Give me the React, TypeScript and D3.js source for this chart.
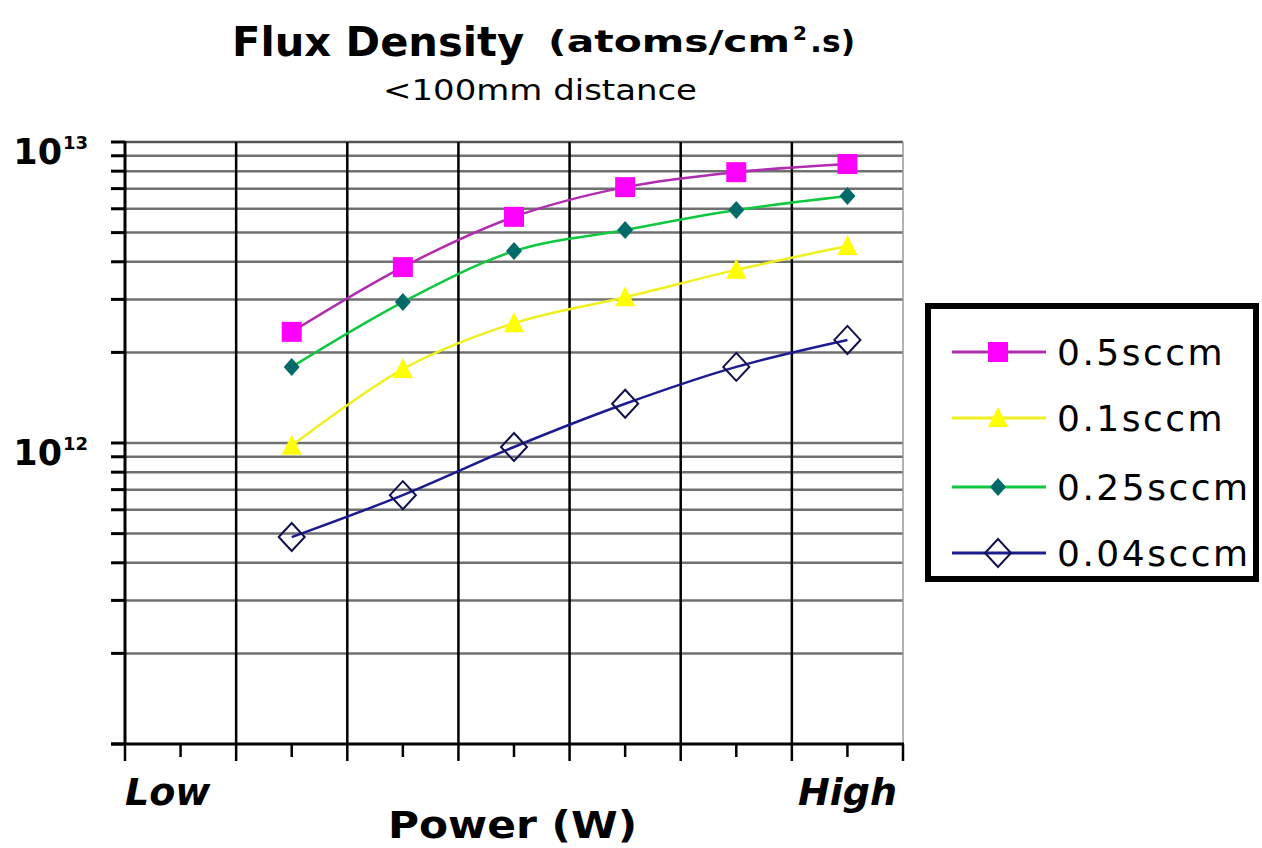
import React from "react";
import * as d3 from "d3";

// power categories on the x axis (only the ends are labelled)
const powerLevels = ["P1", "P2", "P3", "P4", "P5", "P6", "P7"];
const powerTickLabels = ["Low", "", "", "", "", "", "High"];
const measuredLevels = ["P2", "P3", "P4", "P5", "P6", "P7"];

// flux density, atoms/cm2.s
const flux05 = [2.34e12, 3.84e12, 5.64e12, 7.08e12, 7.94e12, 8.45e12];
const flux01 = [0.98e12, 1.76e12, 2.5e12, 3.05e12, 3.76e12, 4.51e12];
const flux025 = [1.79e12, 2.94e12, 4.34e12, 5.1e12, 5.94e12, 6.62e12];
const flux004 = [0.487e12, 0.671e12, 0.97e12, 1.35e12, 1.79e12, 2.2e12];

const seriesNames = ["0.5sccm", "0.1sccm", "0.25sccm", "0.04sccm"];
const yLabelValues = [1e12, 1e13];
const yLabelExps = ["12", "13"];

const W = 1262;
const H = 848;
const font = "'DejaVu Sans', sans-serif";

const markers: Record<string, string> = {
  square: "M-10,-10h20v20h-20z",
  triangle: "M0,-11L10,9L-10,9Z",
  diamond: "M0,-9L8,0L0,9L-8,0Z",
  openDiamond: "M0,-14L13,0L0,14L-13,0Z",
};

export default function App() {
  const x = d3.scaleBand<string>().domain(powerLevels).range([125, 903]);
  const y = d3.scaleLog().domain([1e11, 1e13]).range([744, 142]);
  const cx = (c: string) => (x(c) as number) + x.bandwidth() / 2;

  const series = [
    { name: seriesNames[0], values: flux05, line: "#b02cb0", fill: "#ff00ff", stroke: "none", mk: "square" },
    { name: seriesNames[1], values: flux01, line: "#f0f020", fill: "#ffff00", stroke: "none", mk: "triangle" },
    { name: seriesNames[2], values: flux025, line: "#10c840", fill: "#006a6a", stroke: "none", mk: "diamond" },
    { name: seriesNames[3], values: flux004, line: "#1c1c90", fill: "none", stroke: "#101050", mk: "openDiamond" },
  ];

  const line = d3
    .line<number>()
    .x((_, i) => cx(measuredLevels[i]))
    .y((d) => y(d))
    .curve(d3.curveCardinal.tension(0));

  const yTicks = y.ticks();
  const xBounds = [...powerLevels.map((c) => x(c) as number), 903];

  return (
    <svg width={W} height={H} style={{ position: "absolute", left: 0, top: 0, background: "#fff" }}>
      {/* title */}
      <text x={232} y={56} fontFamily={font} fontWeight="bold" fontSize={40} textLength={292} lengthAdjust="spacingAndGlyphs">
        Flux Density
      </text>
      <text x={548} y={52} fontFamily={font} fontWeight="bold" fontSize={30} textLength={242} lengthAdjust="spacingAndGlyphs">
        (atoms/cm
      </text>
      <text x={793} y={40} fontFamily={font} fontWeight="bold" fontSize={20}>
        2
      </text>
      <text x={810} y={52} fontFamily={font} fontWeight="bold" fontSize={30} textLength={45} lengthAdjust="spacingAndGlyphs">
        .s)
      </text>
      <text x={383} y={100} fontFamily={font} fontSize={28} textLength={314} lengthAdjust="spacingAndGlyphs">
        {"<100mm distance"}
      </text>

      {/* horizontal grid + left ticks */}
      {yTicks.map((t, i) => (
        <g key={"h" + i}>
          {t < 1e13 * 0.999 && t > 1e11 * 1.001 && (
            <line x1={125} x2={903} y1={y(t)} y2={y(t)} stroke="#707070" strokeWidth={2.5} />
          )}
          <line x1={111} x2={125} y1={y(t)} y2={y(t)} stroke="#000" strokeWidth={3} />
        </g>
      ))}
      <line x1={125} x2={903} y1={y(1e13)} y2={y(1e13)} stroke="#555" strokeWidth={2.5} />

      {/* vertical grid */}
      {xBounds.slice(1, -1).map((v, i) => (
        <line key={"v" + i} x1={v} x2={v} y1={142} y2={744} stroke="#000" strokeWidth={2.5} />
      ))}
      <line x1={903} x2={903} y1={142} y2={744} stroke="#999" strokeWidth={1.5} />

      {/* axes */}
      <line x1={125} x2={125} y1={141} y2={745} stroke="#000" strokeWidth={3} />
      <line x1={111} x2={904} y1={744} y2={744} stroke="#000" strokeWidth={3} />
      {xBounds.map((v, i) => (
        <line key={"mt" + i} x1={v} x2={v} y1={744} y2={761} stroke="#000" strokeWidth={2.5} />
      ))}
      {powerLevels.map((c) => (
        <line key={"nt" + c} x1={cx(c)} x2={cx(c)} y1={744} y2={757} stroke="#000" strokeWidth={2.5} />
      ))}

      {/* y labels */}
      {yLabelValues.map((v, i) => (
        <g key={"yl" + i}>
          <text x={62} y={y(v) + 22} textAnchor="end" fontFamily={font} fontWeight="bold" fontSize={35}>
            10
          </text>
          <text x={63} y={y(v) + 7} fontFamily={font} fontWeight="bold" fontSize={18}>
            {yLabelExps[i]}
          </text>
        </g>
      ))}

      {/* x labels */}
      {powerLevels.map((c, i) =>
        powerTickLabels[i] ? (
          <text
            key={"xl" + c}
            x={i === 0 ? 125 : 897}
            y={805}
            textAnchor={i === 0 ? "start" : "end"}
            fontFamily={font}
            fontWeight="bold"
            fontStyle="italic"
            fontSize={38}
          >
            {powerTickLabels[i]}
          </text>
        ) : null
      )}
      <text x={388} y={838} fontFamily={font} fontWeight="bold" fontSize={37} textLength={249} lengthAdjust="spacingAndGlyphs">
        Power (W)
      </text>

      {/* series */}
      {series.map((s) => (
        <path key={"l" + s.name} d={line(s.values) as string} fill="none" stroke={s.line} strokeWidth={2.5} />
      ))}
      {series.map((s) =>
        s.values.map((v, i) => (
          <path
            key={s.name + i}
            d={markers[s.mk]}
            transform={`translate(${cx(measuredLevels[i])},${y(v)})`}
            fill={s.fill}
            stroke={s.stroke}
            strokeWidth={2}
          />
        ))
      )}

      {/* legend */}
      <rect x={928} y={306} width={328} height={273} fill="#fff" stroke="#000" strokeWidth={6} />
      {series.map((s, i) => {
        const ly = [352, 418, 487, 553][i];
        return (
          <g key={"lg" + s.name}>
            <line x1={952} x2={1046} y1={ly} y2={ly} stroke={s.line} strokeWidth={3} />
            <path d={markers[s.mk]} transform={`translate(998,${ly})`} fill={s.fill} stroke={s.stroke} strokeWidth={2} />
            <text x={1057} y={ly + 13} fontFamily={font} fontSize={36} letterSpacing={2.5}>
              {s.name}
            </text>
          </g>
        );
      })}
    </svg>
  );
}
